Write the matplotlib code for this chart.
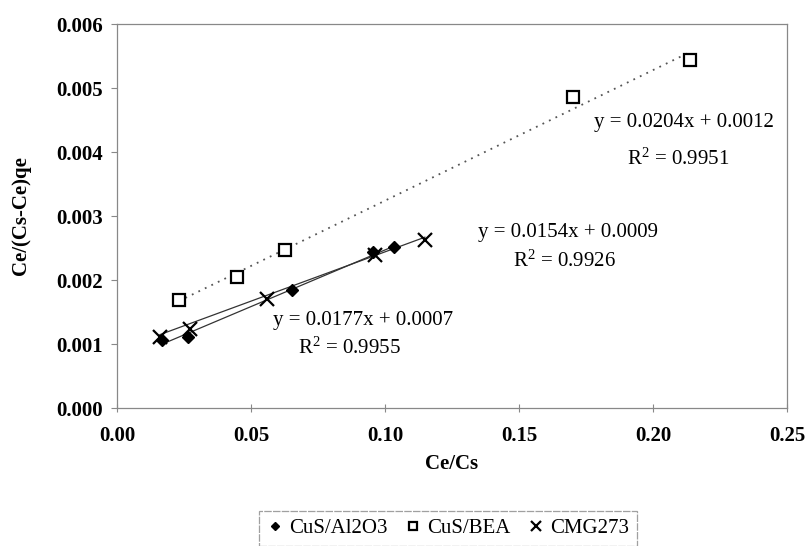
import matplotlib.pyplot as plt
import numpy as np

plt.rcParams['font.family'] = ['Liberation Serif', 'DejaVu Serif']

# Ce/Cs vs Ce/((Cs-Ce)qe) for the three adsorbents
al2o3_x = [0.0169, 0.0264, 0.0654, 0.0956, 0.1034]
al2o3_y = [0.00106, 0.00111, 0.00185, 0.00244, 0.00251]
bea_x = [0.0231, 0.0449, 0.0627, 0.1700, 0.2138]
bea_y = [0.00169, 0.00205, 0.00247, 0.00486, 0.00544]
cmg_x = [0.0160, 0.0272, 0.0559, 0.0963, 0.1149]
cmg_y = [0.00111, 0.00123, 0.00170, 0.00239, 0.00263]

# linear fits (slope, intercept, R^2)
al2o3_fit = (0.0177, 0.0007, 0.9955)
bea_fit = (0.0204, 0.0012, 0.9951)
cmg_fit = (0.0154, 0.0009, 0.9926)

xticks = [0.00, 0.05, 0.10, 0.15, 0.20, 0.25]
yticks = [0.000, 0.001, 0.002, 0.003, 0.004, 0.005, 0.006]

fig = plt.figure(figsize=(8.08, 5.46), dpi=100)
ax = fig.add_axes([0.1448, 0.2527, 0.8292, 0.7033])


def trend(xs, fit, **kw):
    xx = np.array([min(xs), max(xs)])
    ax.plot(xx, fit[0] * xx + fit[1], **kw)


trend(al2o3_x, al2o3_fit, color='#333333', lw=0.9, zorder=2)
trend(cmg_x, cmg_fit, color='#333333', lw=0.9, zorder=2)
trend(bea_x, bea_fit, color='#555555', lw=1.3, ls=(0, (1, 3)), zorder=2)

ax.plot(al2o3_x, al2o3_y, ls='none', marker='D', ms=6, color='black',
        label='CuS/Al2O3', zorder=3)
ax.plot(bea_x, bea_y, ls='none', marker='s', ms=8, mfc='white', mec='black',
        mew=1.6, label='CuS/BEA', zorder=3)
ax.plot(cmg_x, cmg_y, ls='none', marker='x', ms=10, color='black',
        mew=1.6, label='CMG273', zorder=3)

# fit equations: (eq x, eq y, R2 x, R2 y)
tsize = 15
labels = [(0.0920, 0.00137, 0.0868, 0.00094, al2o3_fit),
          (0.1683, 0.00274, 0.1668, 0.00229, cmg_fit),
          (0.2115, 0.00446, 0.2093, 0.00389, bea_fit)]
for (x0, y0, x1, y1, fit) in labels:
    ax.text(x0, y0, 'y = %.4fx + %.4f' % (fit[0], fit[1]),
            ha='center', va='center', fontsize=tsize)
    ax.text(x1, y1, '$\\mathregular{R^2}$ = %.4f' % fit[2],
            ha='center', va='center', fontsize=tsize)

ax.set_xlim(0, 0.25)
ax.set_ylim(0, 0.006)
ax.set_xticks(xticks)
ax.set_yticks(yticks)
ax.set_xticklabels(['%.2f' % v for v in xticks], fontsize=15, fontweight='bold')
ax.set_yticklabels(['%.3f' % v for v in yticks], fontsize=15, fontweight='bold')
ax.tick_params(axis='x', direction='inout', length=6, width=0.8,
               color='#888888', pad=10)
ax.tick_params(axis='y', direction='out', length=4, width=0.8,
               color='#888888', pad=6)

for sp in ax.spines.values():
    sp.set_color('#888888')
    sp.set_linewidth(0.9)
    sp.set_linestyle((0, (8, 1)))

ax.set_xlabel('Ce/Cs', fontsize=15, fontweight='bold', labelpad=6)
ax.set_ylabel('Ce/(Cs-Ce)qe', fontsize=15, fontweight='bold', labelpad=18)

leg = fig.legend(loc='center', bbox_to_anchor=(0.5545, 0.032), ncol=3,
                 fontsize=15, frameon=True, fancybox=False,
                 handlelength=0.8, handletextpad=0.3, columnspacing=0.8,
                 borderpad=0.35, markerscale=0.7)
leg.get_frame().set_edgecolor('#888888')
leg.get_frame().set_linestyle((0, (6, 1)))
leg.get_frame().set_linewidth(0.9)

fig.savefig('out.png', dpi=100)
